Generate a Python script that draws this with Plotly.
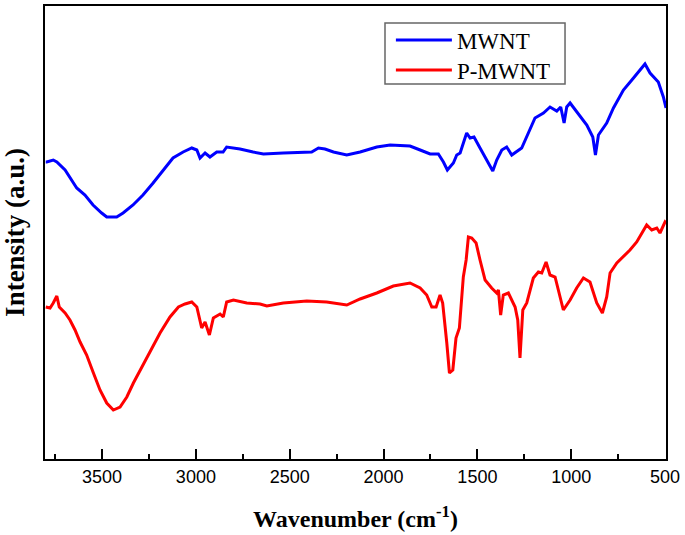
import plotly.graph_objects as go

# Wavenumber (cm^-1) and intensity (a.u.)
mwnt_wn = [3800, 3795, 3760, 3741, 3697, 3661, 3635, 3591, 3548, 3502, 3475, 3422, 3388,
           3335, 3282, 3228, 3175, 3122, 3068, 3022, 2995, 2978, 2951, 2925, 2889,
           2855, 2836, 2765, 2695, 2640, 2534, 2445, 2383, 2347, 2312, 2267, 2196,
           2125, 2036, 1965, 1859, 1805, 1752, 1708, 1681, 1660, 1628, 1610, 1592,
           1566, 1557, 1539, 1518, 1486, 1450, 1418, 1397, 1370, 1344, 1317, 1264,
           1237, 1193, 1148, 1113, 1077, 1056, 1038, 1024, 1006, 971, 917, 885,
           871, 855, 811, 775, 722, 677, 642, 607, 580, 536, 509, 495]
mwnt_int = [297, 297, 299, 297, 289, 279, 271, 264, 254, 246, 242, 242, 246,
            254, 264, 276, 289, 301, 307, 311, 309, 301, 306, 302, 307,
            307, 312, 310, 307, 305, 306, 307, 307, 311, 310, 307, 304,
            307, 312, 314, 313, 309, 305, 305, 297, 289, 296, 304, 306,
            321, 326, 321, 322, 311, 299, 288, 299, 309, 312, 304, 311,
            322, 341, 346, 352, 348, 352, 336, 352, 356, 347, 334, 322,
            304, 324, 336, 351, 369, 379, 387, 395, 386, 377, 362, 351]

pmwnt_wn = [3800, 3777, 3760, 3741, 3728, 3697, 3671, 3644, 3617, 3582, 3546, 3511,
            3475, 3440, 3404, 3368, 3333, 3297, 3244, 3191, 3138, 3093, 3058, 3022,
            2995, 2969, 2951, 2928, 2907, 2871, 2854, 2836, 2800, 2729, 2658, 2622,
            2534, 2409, 2303, 2196, 2125, 2036, 1948, 1859, 1805, 1770, 1743, 1720,
            1699, 1685, 1663, 1649, 1631, 1614, 1596, 1575, 1560, 1548, 1530, 1507,
            1486, 1459, 1424, 1397, 1388, 1376, 1362, 1335, 1299, 1285, 1273, 1258,
            1237, 1202, 1175, 1157, 1134, 1113, 1086, 1042, 1006, 971, 935, 900,
            864, 834, 811, 793, 757, 722, 687, 651, 624, 598, 571, 544, 527, 500, 495]
pmwnt_int = [152, 151, 156, 163, 152, 146, 139, 129, 117, 104, 86, 69,
             56, 49, 52, 62, 76, 89, 107, 126, 142, 152, 155, 157,
             152, 131, 137, 124, 141, 145, 142, 157, 159, 156, 155, 153,
             156, 158, 157, 154, 160, 166, 173, 176, 171, 164, 152, 152,
             164, 156, 116, 86, 89, 121, 131, 182, 199, 222, 221, 216,
             199, 179, 171, 166, 169, 144, 164, 166, 152, 139, 101, 149,
             156, 181, 187, 186, 197, 184, 182, 149, 159, 171, 181, 177,
             156, 146, 162, 186, 196, 202, 209, 217, 226, 234, 229, 231, 226, 237, 236]

x_ticks = [3500, 3000, 2500, 2000, 1500, 1000, 500]
x_range = [3804, 495]
y_range = [0, 453]

serif = "Liberation Serif, Times New Roman, serif"
sans = "Liberation Sans, Arial, sans-serif"

fig = go.Figure()
fig.add_trace(go.Scatter(x=mwnt_wn, y=mwnt_int, mode="lines", name="MWNT",
                         line=dict(color="#0000FF", width=3), legend="legend"))
fig.add_trace(go.Scatter(x=pmwnt_wn, y=pmwnt_int, mode="lines", name="P-MWNT",
                         line=dict(color="#FF0000", width=3), legend="legend2"))

leg_common = dict(xanchor="left", yanchor="middle", borderwidth=0,
                  bgcolor="rgba(0,0,0,0)",
                  font=dict(family=serif, size=23, color="black"), itemwidth=56)

fig.update_layout(
    width=685, height=535,
    margin=dict(l=45, r=19, t=6, b=76, autoexpand=False),
    paper_bgcolor="white", plot_bgcolor="white",
    showlegend=True,
    legend=dict(x=0.557, y=0.925, **leg_common),
    legend2=dict(x=0.557, y=0.8587, **leg_common),
    shapes=[dict(type="rect", xref="paper", yref="paper",
                 x0=0.5475, x1=0.8374, y0=0.8278, y1=0.9625,
                 line=dict(color="#666666", width=1.5), fillcolor="white",
                 layer="below")],
    xaxis=dict(range=x_range, tickvals=x_ticks, ticktext=[str(v) for v in x_ticks],
               ticks="inside", ticklen=10, tickwidth=2, tickcolor="black",
               minor=dict(dtick=250, ticks="inside", ticklen=5, tickwidth=2, tickcolor="black"),
               showline=True, linecolor="black", linewidth=2, mirror=True,
               showgrid=False, zeroline=False, automargin=False,
               tickfont=dict(family=sans, size=18, color="black"),
               title=dict(text="<b>Wavenumber (cm<sup>-1</sup>)</b>", standoff=25,
                          font=dict(family=serif, size=24, color="black"))),
    yaxis=dict(range=y_range, showticklabels=False, ticks="",
               showline=True, linecolor="black", linewidth=2, mirror=True,
               showgrid=False, zeroline=False, automargin=False,
               title=dict(text="<b>Intensity (a.u.)</b>",
                          font=dict(family=serif, size=27, color="black"))),
)

fig.write_html("out.html", config={"displayModeBar": False},
               post_script="document.body.style.margin='0px';")
